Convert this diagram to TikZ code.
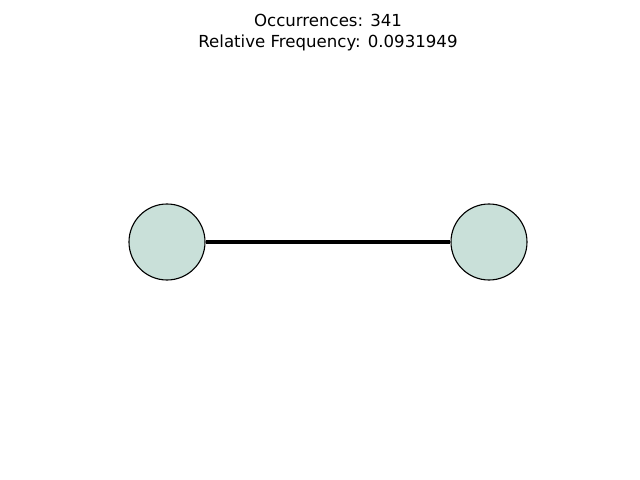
\documentclass[tikz,border=0pt]{standalone}
\usepackage{fontspec}
\setmainfont{DejaVu Sans}
\definecolor{nodegreen}{HTML}{C9E0D9}

\begin{document}
\begin{tikzpicture}[x = 0.0254cm, y = -0.0254cm]

	% Canvas

	\useasboundingbox (0, 0) rectangle (640, 480);

	% Styles

	\tikzset{vertex/.style = {circle, draw = black, line width = 0.8pt, fill = nodegreen, minimum size = 76 * 0.0254cm, inner sep = 0pt}}

	% Title

	\node [align = center, font = \fontsize{12}{15}\selectfont] (title) at (328, 32.5) {Occurrences: 341\\Relative Frequency: 0.0931949};

	% Vertices + edge

	\node [vertex] (left) at (167, 242) {};
	\node [vertex] (right) at (489, 242) {};

	\draw [line width = 2.2pt] (left) -- (right);

\end{tikzpicture}
\end{document}
